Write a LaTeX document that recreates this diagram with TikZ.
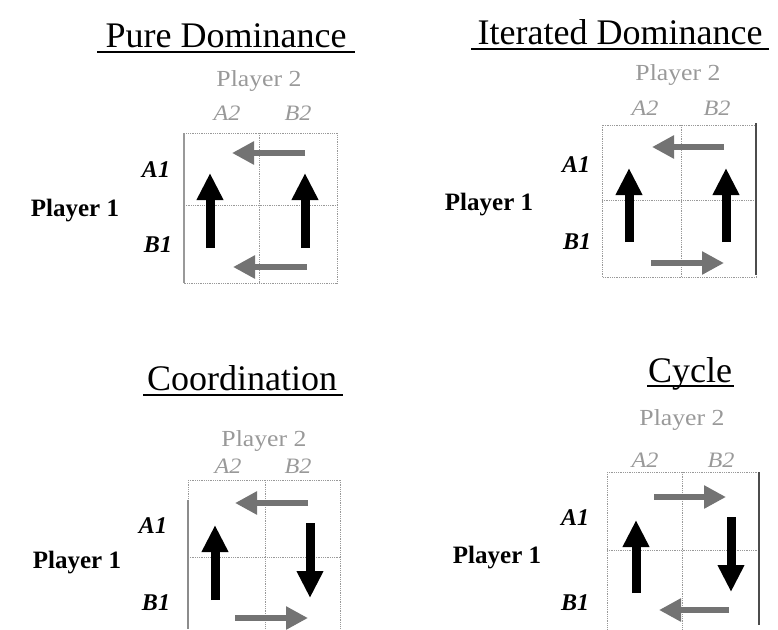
\documentclass[tikz,border=0pt]{standalone}
\usepackage{fontspec}
\setmainfont{Liberation Serif}
\usetikzlibrary{arrows.meta}
\definecolor{arrgray}{gray}{0.45}
\definecolor{lightlab}{gray}{0.6}
\definecolor{gridgray}{gray}{0.6}
\tikzset{
  titlelab/.style={anchor=base,inner sep=0pt,font=\fontsize{36}{38}\selectfont},
  ulineseg/.style={line width=1.8pt,black},
  ptwolab/.style={anchor=base,inner sep=0pt,text=lightlab,font=\fontsize{23}{24}\selectfont},
  stratlab/.style={anchor=base,inner sep=0pt,text=lightlab,font=\fontsize{22}{24}\selectfont\itshape},
  rowlab/.style={inner sep=0pt,font=\fontsize{24}{25}\selectfont\bfseries\itshape},
  ponelab/.style={inner sep=0pt,font=\fontsize{25}{26}\selectfont\bfseries},
  gridline/.style={gridgray,densely dotted,line width=0.8pt},
  edgeline/.style={black!70,line width=1.2pt},
  bigarrow/.style={black,line width=9pt,-{Triangle[width=25pt,length=27pt]}},
  smallarrow/.style={arrgray,line width=6pt,-{Triangle[width=22pt,length=22pt]}}
}
\begin{document}
\begin{tikzpicture}[x=1pt,y=-1pt]
\useasboundingbox (0,0) rectangle (778,629);
% ---------------- Panel 1: Pure Dominance
\node[titlelab] (t1) at (226,47) {Pure Dominance};
\coordinate (u1a) at (97,52); \coordinate (u1b) at (355,52);
\draw[ulineseg] (u1a) -- (u1b);
\node[ptwolab] (p2a) at (259,86) {\scalebox{1.12}[1]{Player 2}};
\node[stratlab] (a2a) at (227,120) {\scalebox{1.1}[1]{A2}};
\node[stratlab] (b2a) at (298,120) {\scalebox{1.1}[1]{B2}};
\draw[gridline] (184,133) rectangle (337,283);
\draw[gridline] (259,133) -- (259,283);
\draw[gridline] (184,205) -- (337,205);
\draw[edgeline,black!40] (184,133) -- (184,283);
\node[rowlab] (a1a) at (156,170) {A1};
\node[rowlab] (b1a) at (158,245) {B1};
\node[ponelab] (p1a) at (75,211) {Player 1};
\coordinate (s1a) at (210,248); \coordinate (e1a) at (210,173);
\coordinate (s1b) at (305,248); \coordinate (e1b) at (305,173);
\coordinate (s1c) at (305,153); \coordinate (e1c) at (232,153);
\coordinate (s1d) at (307,267); \coordinate (e1d) at (233,267);
\draw[bigarrow] (s1a) -- (e1a);
\draw[bigarrow] (s1b) -- (e1b);
\draw[smallarrow] (s1c) -- (e1c);
\draw[smallarrow] (s1d) -- (e1d);
% ---------------- Panel 2: Iterated Dominance
\node[titlelab] (t2) at (620,44) {Iterated Dominance};
\coordinate (u2a) at (471,49); \coordinate (u2b) at (769,49);
\draw[ulineseg] (u2a) -- (u2b);
\node[ptwolab] (p2b) at (678,80) {\scalebox{1.12}[1]{Player 2}};
\node[stratlab] (a2b) at (645,115) {\scalebox{1.1}[1]{A2}};
\node[stratlab] (b2b) at (717,115) {\scalebox{1.1}[1]{B2}};
\draw[gridline] (602,125) rectangle (756,277);
\draw[gridline] (681,125) -- (681,277);
\draw[gridline] (602,200) -- (756,200);
\draw[edgeline] (756,123) -- (756,275);
\node[rowlab] (a1b) at (576,165) {A1};
\node[rowlab] (b1b) at (577,242) {B1};
\node[ponelab] (p1b) at (489,205) {Player 1};
\coordinate (s2a) at (629,242); \coordinate (e2a) at (629,168);
\coordinate (s2b) at (726,242); \coordinate (e2b) at (726,168);
\coordinate (s2c) at (724,147); \coordinate (e2c) at (652,147);
\coordinate (s2d) at (651,263); \coordinate (e2d) at (724,263);
\draw[bigarrow] (s2a) -- (e2a);
\draw[bigarrow] (s2b) -- (e2b);
\draw[smallarrow] (s2c) -- (e2c);
\draw[smallarrow] (s2d) -- (e2d);
% ---------------- Panel 3: Coordination
\node[titlelab] (t3) at (242,390) {Coordination};
\coordinate (u3a) at (143,395); \coordinate (u3b) at (343,395);
\draw[ulineseg] (u3a) -- (u3b);
\node[ptwolab] (p2c) at (264,446) {\scalebox{1.12}[1]{Player 2}};
\node[stratlab] (a2c) at (228,473) {\scalebox{1.1}[1]{A2}};
\node[stratlab] (b2c) at (298,473) {\scalebox{1.1}[1]{B2}};
\draw[gridline] (188,480) -- (340,480);
\draw[gridline] (188,480) -- (188,629);
\draw[gridline] (340,480) -- (340,629);
\draw[gridline] (265,480) -- (265,629);
\draw[gridline] (188,557) -- (340,557);
\draw[edgeline,black!45] (188,500) -- (188,629);
\node[rowlab] (a1c) at (153,526) {A1};
\node[rowlab] (b1c) at (156,603) {B1};
\node[ponelab] (p1c) at (77,563) {Player 1};
\coordinate (s3a) at (215,600); \coordinate (e3a) at (215,525);
\coordinate (s3b) at (310,523); \coordinate (e3b) at (310,598);
\coordinate (s3c) at (308,503); \coordinate (e3c) at (235,503);
\coordinate (s3d) at (235,618); \coordinate (e3d) at (308,618);
\draw[bigarrow] (s3a) -- (e3a);
\draw[bigarrow] (s3b) -- (e3b);
\draw[smallarrow] (s3c) -- (e3c);
\draw[smallarrow] (s3d) -- (e3d);
% ---------------- Panel 4: Cycle
\node[titlelab] (t4) at (690,382) {Cycle};
\coordinate (u4a) at (647,386); \coordinate (u4b) at (734,386);
\draw[ulineseg] (u4a) -- (u4b);
\node[ptwolab] (p2d) at (682,425) {\scalebox{1.12}[1]{Player 2}};
\node[stratlab] (a2d) at (645,467) {\scalebox{1.1}[1]{A2}};
\node[stratlab] (b2d) at (721,467) {\scalebox{1.1}[1]{B2}};
\draw[gridline] (607,472) -- (759,472);
\draw[gridline] (607,472) -- (607,629);
\draw[gridline] (682,472) -- (682,629);
\draw[gridline] (607,550) -- (759,550);
\draw[edgeline] (759,472) -- (759,625);
\node[rowlab] (a1d) at (575,518) {A1};
\node[rowlab] (b1d) at (575,603) {B1};
\node[ponelab] (p1d) at (497,558) {Player 1};
\coordinate (s4a) at (636,593); \coordinate (e4a) at (636,520);
\coordinate (s4b) at (731,517); \coordinate (e4b) at (731,592);
\coordinate (s4c) at (654,497); \coordinate (e4c) at (726,497);
\coordinate (s4d) at (729,610); \coordinate (e4d) at (659,610);
\draw[bigarrow] (s4a) -- (e4a);
\draw[bigarrow] (s4b) -- (e4b);
\draw[smallarrow] (s4c) -- (e4c);
\draw[smallarrow] (s4d) -- (e4d);
\end{tikzpicture}
\end{document}
